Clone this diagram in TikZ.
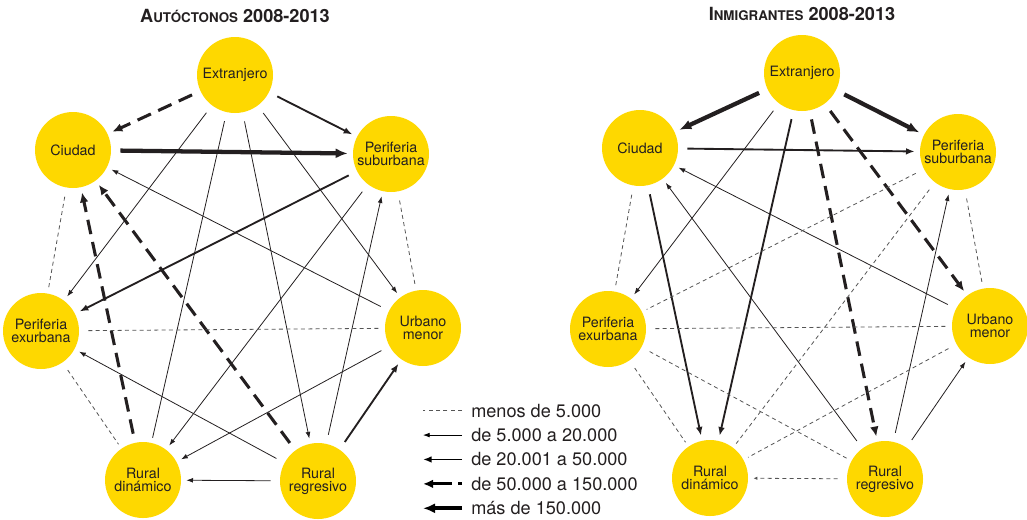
\documentclass[tikz,border=0pt]{standalone}
\usepackage{fontspec}
\setmainfont{TeX Gyre Heros}
\usetikzlibrary{arrows.meta,positioning}
\definecolor{amarillo}{RGB}{254,216,0}
\definecolor{tinta}{RGB}{35,31,32}
\definecolor{gris}{RGB}{85,85,85}

\begin{document}
\begin{tikzpicture}[on grid, text=tinta]
\tikzstyle{every circle node}=[minimum size=57pt, inner sep=0pt, outer sep=3pt, fill=amarillo, align=center, font=\fontsize{10.7}{9.6}\selectfont]
\tikzstyle{every edge}=[draw, tinta, shorten <=4pt, shorten >=1pt]
\tikzstyle{titulo}=[font=\bfseries\fontsize{13.6}{14}\selectfont]
\tikzstyle{leyenda}=[inner sep=0pt, font=\fontsize{13.6}{15}\selectfont]
\tikzstyle{menos5}=[gris, line width=0.6pt, dash pattern=on 3pt off 2.5pt]
\tikzstyle{hasta20}=[line width=0.6pt, -{Latex[length=5pt,width=3.6pt]}]
\tikzstyle{hasta50}=[line width=1.4pt, -{Latex[length=6.5pt,width=5pt]}]
\tikzstyle{hasta150}=[line width=2.3pt, dash pattern=on 11pt off 6pt, -{Latex[length=7.5pt,width=6.5pt]}]
\tikzstyle{mas150}=[line width=3.2pt, -{Latex[length=9pt,width=7.5pt]}]
\useasboundingbox (0,0) rectangle (770.25pt,-389.25pt);
\node [circle] (AEXT) at (176.25pt,-56.25pt) {Extranjero};
\node [circle, below left=56.25pt and 121.5pt of AEXT] (ACIU) {Ciudad};
\node [circle, below right=59.25pt and 117pt of AEXT] (APSU) {Periferia\\suburbana};
\node [circle, below left=192pt and 145.5pt of AEXT] (APEX) {Periferia\\exurbana};
\node [circle, below right=189.75pt and 141pt of AEXT] (AURB) {Urbano\\menor};
\node [circle, below left=303.75pt and 69pt of AEXT] (ARDI) {Rural\\dinámico};
\node [circle, below right=304.5pt and 62.25pt of AEXT] (ARRE) {Rural\\regresivo};
\node [circle, above right=1.5pt and 425.25pt of AEXT] (IEXT) {Extranjero};
\node [circle, below left=56.25pt and 121.5pt of IEXT] (ICIU) {Ciudad};
\node [circle, below right=59.25pt and 117pt of IEXT] (IPSU) {Periferia\\suburbana};
\node [circle, below left=192pt and 145.5pt of IEXT] (IPEX) {Periferia\\exurbana};
\node [circle, below right=189.75pt and 141pt of IEXT] (IURB) {Urbano\\menor};
\node [circle, below left=303.75pt and 69pt of IEXT] (IRDI) {Rural\\dinámico};
\node [circle, below right=304.5pt and 62.25pt of IEXT] (IRRE) {Rural\\regresivo};
\node [titulo, above=44.25pt of AEXT] (TAUT) {A{\fontsize{10}{10}\selectfont UTÓCTONOS} 2008-2013};
\node [titulo, above=44.25pt of IEXT] (TINM) {I{\fontsize{10}{10}\selectfont NMIGRANTES} 2008-2013};
\node [leyenda, anchor=west] (L1) at (353.25pt,-308pt) {menos de 5.000};
\node [leyenda, below=18.3pt of L1.west, anchor=west] (L2) {de 5.000 a 20.000};
\node [leyenda, below=18.3pt of L2.west, anchor=west] (L3) {de 20.001 a 50.000};
\node [leyenda, below=18.3pt of L3.west, anchor=west] (L4) {de 50.000 a 150.000};
\node [leyenda, below=18.3pt of L4.west, anchor=west] (L5) {más de 150.000};
\draw [menos5] ([xshift=-6.75pt]L1.west) -- ([xshift=-36pt]L1.west);
\draw [hasta20] ([xshift=-6.75pt]L2.west) -- ([xshift=-36pt]L2.west);
\draw [hasta50] ([xshift=-6.75pt]L3.west) -- ([xshift=-36pt]L3.west);
\draw [hasta150, dash pattern=on 3pt off 4.5pt on 30pt off 1pt] ([xshift=-6.75pt]L4.west) -- ([xshift=-36pt]L4.west);
\draw [mas150] ([xshift=-6.75pt]L5.west) -- ([xshift=-36pt]L5.west);
\path (AEXT) edge [hasta150] (ACIU);
\path (AEXT) edge [hasta50] (APSU);
\path (ACIU) edge [mas150] (APSU);
\path (AEXT) edge [hasta20] (APEX);
\path (AEXT) edge [hasta20, -] (ARDI);
\path (AEXT) edge [hasta20] (ARRE);
\path (AEXT) edge [hasta20] (AURB);
\path (AURB) edge [hasta20] (ACIU);
\path (ARDI) edge [hasta150] (ACIU);
\path (ARRE) edge [hasta150] (ACIU);
\path (APSU) edge [hasta50] (APEX);
\path (APSU) edge [hasta20] (ARDI);
\path (ARRE) edge [hasta20] (APSU);
\path (ACIU) edge [menos5] (APEX);
\path (APSU) edge [menos5] (AURB);
\path (APEX) edge [menos5] (AURB);
\path (APEX) edge [menos5] (ARDI);
\path (ARRE) edge [hasta20] (APEX);
\path (AURB) edge [hasta20] (ARDI);
\path (ARRE) edge [hasta50] (AURB);
\path (ARRE) edge [hasta20] (ARDI);
\path (IEXT) edge [mas150] (ICIU);
\path (IEXT) edge [mas150] (IPSU);
\path (ICIU) edge [hasta50] (IPSU);
\path (IEXT) edge [hasta20] (IPEX);
\path (IEXT) edge [hasta50] (IRDI);
\path (IEXT) edge [hasta150] (IRRE);
\path (IEXT) edge [hasta150] (IURB);
\path (ICIU) edge [hasta50] (IRDI);
\path (IRRE) edge [hasta20] (ICIU);
\path (IURB) edge [hasta20] (ICIU);
\path (ICIU) edge [menos5] (IPEX);
\path (IPSU) edge [menos5] (IPEX);
\path (IPSU) edge [menos5] (IRDI);
\path (IRRE) edge [hasta20] (IPSU);
\path (IPSU) edge [menos5] (IURB);
\path (IPEX) edge [menos5] (IURB);
\path (IPEX) edge [menos5] (IRRE);
\path (IPEX) edge [menos5] (IRDI);
\path (IURB) edge [menos5] (IRDI);
\path (IRRE) edge [hasta20] (IURB);
\path (IRRE) edge [menos5, -{Latex[length=3pt,width=2.5pt]}] (IRDI);
\end{tikzpicture}
\end{document}
